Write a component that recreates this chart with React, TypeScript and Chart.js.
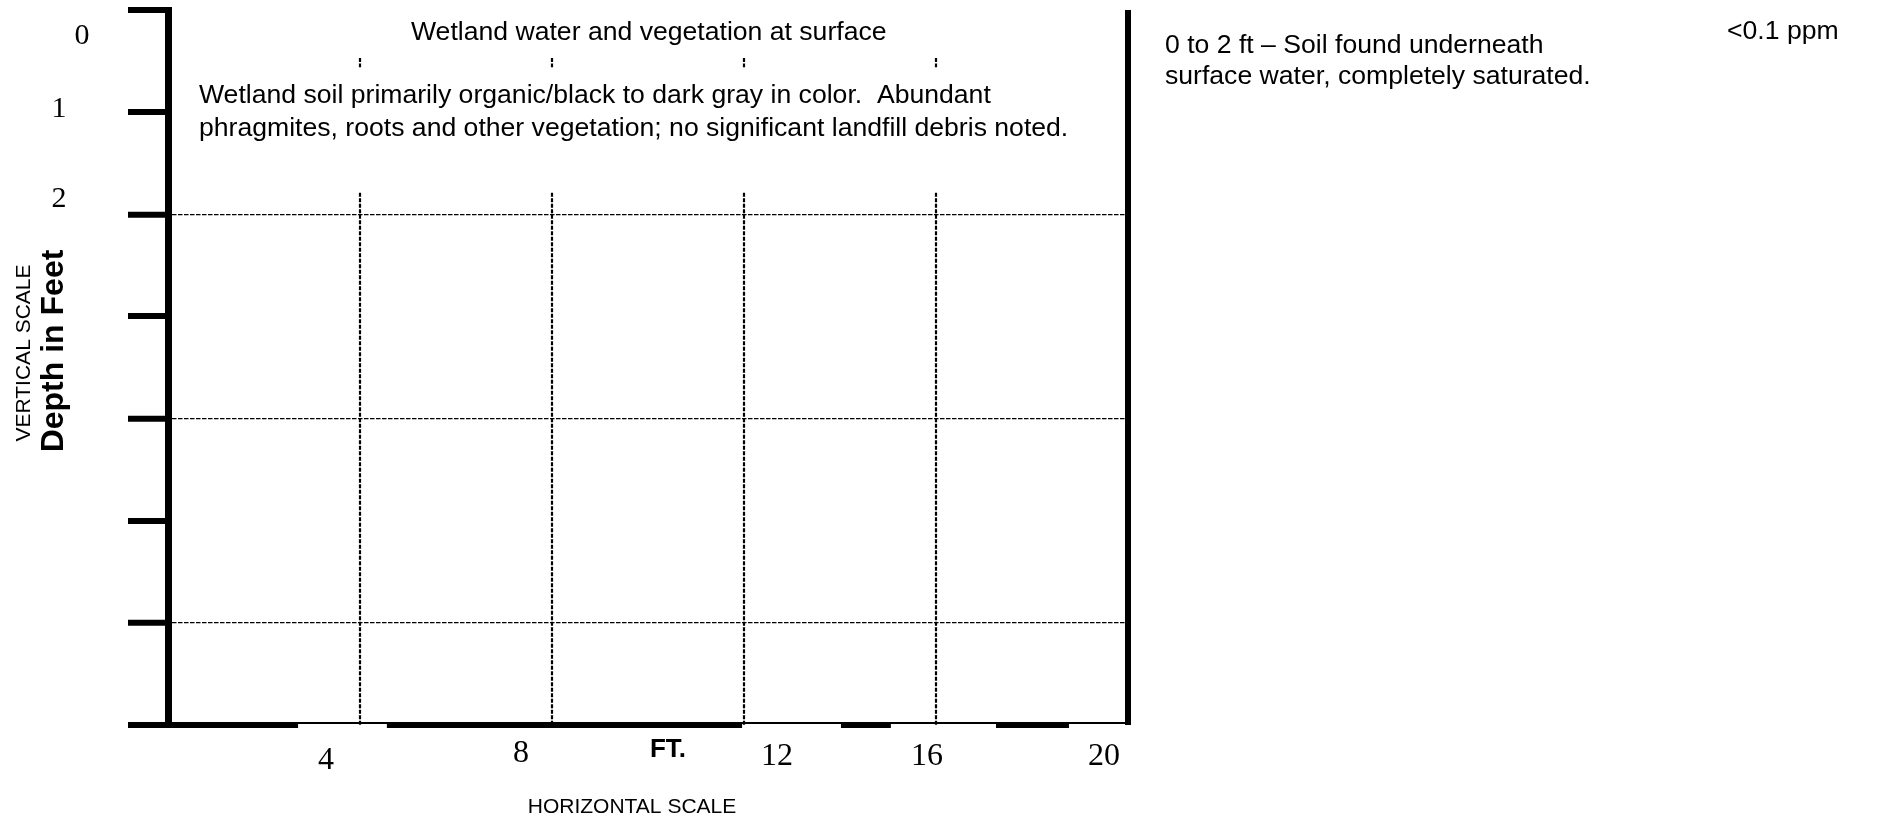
import React, { useEffect, useRef } from "react";
import { Chart, registerables } from "chart.js";

Chart.register(...registerables);

// ---- data ----
const maxFeet = 20;
const maxDepth = 7;
const depthTickStep = 1;
const dashedDepths = [2, 4, 6];
const gridFeet = [4, 8, 12, 16];
const gridTopDepth = 1.79;
const surfaceMarkDepths = [0.47, 0.56];
const xTickValues = [4, 8, 12, 16, 20];
const xTickLabels = ["4", "8", "12", "16", "20"];
const depthLabelValues = [0, 1, 2];
const depthLabels = ["0", "1", "2"];
const surfaceText = "Wetland water and vegetation at surface";
const soilLines = [
  "Wetland soil primarily organic/black to dark gray in color.  Abundant",
  "phragmites, roots and other vegetation; no significant landfill debris noted.",
];
const intervalLines = [
  "0 to 2 ft \u2013 Soil found underneath",
  "surface water, completely saturated.",
];
const pidReading = "<0.1 ppm";
const unitLabel = "FT.";
const horizontalTitle = "HORIZONTAL SCALE";
const verticalTitle = "VERTICAL SCALE";
const depthTitle = "Depth in Feet";

// ---- styling helpers (not data) ----
const SANS = '"Liberation Sans", Arial, sans-serif';
const SERIF = '"Liberation Serif", "Times New Roman", serif';
const xLabelOffsets = [-34, -31, 33, -9, -24];
const xLabelBaselineOffsets = [44, 37, 40, 40, 40];
const depthLabelOffsets = [
  { dx: -86, dy: 34 },
  { dx: -109, dy: 5 },
  { dx: -109, dy: -7 },
];
const scaleBarStart = -0.83;
const scaleBarEnd = 20.06;
const scaleBarBlack = [
  [-0.83, 2.71],
  [4.56, 11.96],
  [14.02, 15.06],
  [17.25, 18.77],
];

const decorPlugin = {
  id: "boringLogDecor",
  afterDraw(chart: any) {
    const { ctx } = chart;
    const x = chart.scales.x;
    const y = chart.scales.y;
    const yb = y.getPixelForValue(maxDepth);
    const xl = chart.chartArea.left;
    ctx.save();
    ctx.fillStyle = "#000";

    // scale bar along the bottom
    const s0 = x.getPixelForValue(scaleBarStart);
    const s1 = x.getPixelForValue(scaleBarEnd);
    ctx.fillRect(s0, yb - 3, s1 - s0, 2);
    for (const [a, b] of scaleBarBlack) {
      const pa = x.getPixelForValue(a);
      const pb = x.getPixelForValue(b);
      ctx.fillRect(pa, yb - 3, pb - pa, 6);
    }

    // x tick labels
    ctx.font = `32px ${SERIF}`;
    ctx.textAlign = "center";
    ctx.textBaseline = "alphabetic";
    xTickValues.forEach((v, i) => {
      ctx.fillText(
        xTickLabels[i],
        x.getPixelForValue(v) + xLabelOffsets[i],
        yb + xLabelBaselineOffsets[i]
      );
    });

    // depth labels
    ctx.font = `30px ${SERIF}`;
    depthLabelValues.forEach((v, i) => {
      ctx.fillText(
        depthLabels[i],
        xl + depthLabelOffsets[i].dx,
        y.getPixelForValue(v) + depthLabelOffsets[i].dy
      );
    });

    // unit label
    ctx.font = `bold 26px ${SANS}`;
    ctx.fillText(unitLabel, 668, 757);

    // horizontal scale title
    ctx.font = `21px ${SANS}`;
    ctx.fillText(horizontalTitle, 632, 813);

    // vertical titles
    ctx.save();
    ctx.translate(30, 353);
    ctx.rotate(-Math.PI / 2);
    ctx.font = `21px ${SANS}`;
    ctx.fillText(verticalTitle, 0, 0);
    ctx.restore();

    ctx.save();
    ctx.translate(63, 351);
    ctx.rotate(-Math.PI / 2);
    ctx.font = `bold 32px ${SANS}`;
    ctx.fillText(depthTitle, 0, 0);
    ctx.restore();

    // descriptions
    ctx.textAlign = "left";
    ctx.font = `26.6px ${SANS}`;
    ctx.fillText(surfaceText, 411, 40);
    soilLines.forEach((t, i) => ctx.fillText(t, 199, 103 + i * 33));
    intervalLines.forEach((t, i) => ctx.fillText(t, 1165, 53 + i * 31));
    ctx.fillText(pidReading, 1727, 39);

    ctx.restore();
  },
};

export default function App() {
  const canvasRef = useRef<HTMLCanvasElement | null>(null);

  useEffect(() => {
    const canvas = canvasRef.current;
    if (!canvas) return;

    const datasets: any[] = [];
    gridFeet.forEach((f) => {
      datasets.push({
        data: [
          { x: f, y: gridTopDepth },
          { x: f, y: maxDepth },
        ],
        showLine: true,
        borderColor: "#000",
        borderWidth: 2.2,
        borderDash: [4, 1.5],
        pointRadius: 0,
        clip: false,
      });
      datasets.push({
        data: [
          { x: f, y: surfaceMarkDepths[0] },
          { x: f, y: surfaceMarkDepths[1] },
        ],
        showLine: true,
        borderColor: "#000",
        borderWidth: 2.2,
        borderDash: [4, 1.5],
        pointRadius: 0,
        clip: false,
      });
    });
    datasets.push({
      data: [
        { x: maxFeet, y: 0 },
        { x: maxFeet, y: maxDepth },
      ],
      showLine: true,
      borderColor: "#000",
      borderWidth: 6,
      pointRadius: 0,
      clip: false,
    });

    const chart = new Chart(canvas, {
      type: "scatter",
      data: { datasets },
      options: {
        responsive: false,
        animation: false,
        events: [],
        layout: { padding: { left: 128, right: 753, top: 10, bottom: 92 } },
        plugins: {
          legend: { display: false },
          tooltip: { enabled: false },
          title: { display: false },
        },
        scales: {
          x: { type: "linear", min: 0, max: maxFeet, display: false },
          y: {
            type: "linear",
            position: "left",
            min: 0,
            max: maxDepth,
            reverse: true,
            afterFit: (s: any) => {
              s.width = 40;
            },
            ticks: { display: false, stepSize: depthTickStep },
            grid: {
              drawTicks: true,
              tickLength: 40,
              tickWidth: 6,
              tickColor: "#000",
              tickBorderDash: [],
              color: (c: any) =>
                c.tick && dashedDepths.includes(c.tick.value) ? "#000" : "rgba(0,0,0,0)",
              lineWidth: (c: any) =>
                c.tick && dashedDepths.includes(c.tick.value) ? 1.3 : 0,
            },
            border: { display: true, color: "#000", width: 7, dash: [4.5, 1.5] },
          },
        },
      } as any,
      plugins: [decorPlugin],
    });

    return () => chart.destroy();
  }, []);

  return (
    <div style={{ position: "fixed", left: 0, top: 0, width: 1881, height: 817, background: "#fff" }}>
      <canvas ref={canvasRef} width={1881} height={817} style={{ display: "block" }} />
    </div>
  );
}
